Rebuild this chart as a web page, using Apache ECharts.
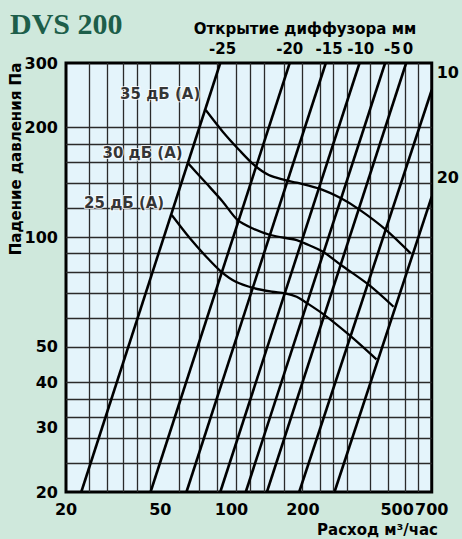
<!DOCTYPE html>
<html><head><meta charset="utf-8">
<script src="https://cdn.jsdelivr.net/npm/echarts@6/dist/echarts.min.js"></script>
<style>html,body{margin:0;padding:0;background:#cfe8dc}#c{width:462px;height:539px}</style>
</head><body><div id="c"></div>
<script>
// Axis ticks and grid (raw values, log-log chart)
const xTickValues = [20, 50, 100, 200, 500, 700];
const yTickValues = [20, 30, 40, 50, 100, 200, 300];
const xGridValues = [25, 30, 35, 40, 45.5, 60, 73, 87, 105, 120, 137, 167, 198, 237, 268, 309, 384, 457, 539, 613];
const yGridValues = [24, 28, 32, 36, 40, 50, 60, 70, 80, 90, 100, 120, 140, 160, 180, 200];

// Diffuser opening lines (mm)
const openingTopLabels = ['-25', '-20', '-15', '-10', '-5', '0'];
const openingTopLabelQ = [91.7, 176, 258, 351, 477, 556];
const openingSideLabels = ['10', '20'];
const openingSideLabelP = [282, 146];
const openingStartQ = [23.2, 45.5, 64.5, 89.6, 114.8, 141, 193, 272];
const openingStartP = [20, 20, 20, 20, 20, 20, 20, 20];
const openingEndQ = [89.6, 176, 250, 347, 445, 546, 700, 700];
const openingEndP = [300, 300, 300, 300, 300, 300, 253, 129];

// Noise level curves
const curveNames = ['35 дБ (A)', '30 дБ (A)', '25 дБ (A)'];
const curve35Q = [77.8, 91.8, 107.7, 124.4, 143.6, 168.3, 188.3, 239.2, 289.8, 345.4, 446, 570.6];
const curve35P = [222.9, 194.4, 173.2, 157.6, 147.9, 143.3, 140.9, 135.1, 127.7, 119.1, 105.0, 90.2];
const curve30Q = [65.6, 78.2, 91.8, 106.0, 122.3, 145.8, 188.3, 203.8, 243.2, 289.8, 380.1, 483];
const curve30P = [159.2, 140.4, 125.0, 111.4, 105.7, 101.3, 98.1, 96.1, 91.1, 83.8, 73.9, 64.4];
const curve25Q = [55.9, 66.7, 78.2, 90.3, 104.2, 124.4, 148.2, 168.3, 188.3, 203.8, 247, 313.8, 409.2];
const curve25P = [114.9, 99.2, 88.3, 80.4, 75.4, 72.4, 70.8, 70.1, 68.6, 66.5, 61.1, 53.9, 46.2];

const L = Math.log10;
const FONT = 'DejaVu Sans';
const near = (arr, v) => arr.findIndex(a => Math.abs(L(a) - v) < 1e-6);

const series = [];
openingStartQ.forEach((q, i) => {
  series.push({
    type: 'line', xAxisIndex: 0, yAxisIndex: 0, silent: true, symbol: 'none',
    lineStyle: { color: '#000', width: 2.6 },
    data: [[L(q), L(openingStartP[i])], [L(openingEndQ[i]), L(openingEndP[i])]]
  });
});
const curves = [[curve35Q, curve35P, [-5, -16]], [curve30Q, curve30P, [-5, -10]], [curve25Q, curve25P, [-7, -12]]];
curves.forEach(([qs, ps, pos], k) => {
  series.push({
    type: 'line', xAxisIndex: 0, yAxisIndex: 0, silent: true, symbol: 'none', smooth: 0.3,
    lineStyle: { color: '#000', width: 2.3 },
    data: qs.map((q, i) => [L(q), L(ps[i])])
  });
  series.push({
    type: 'scatter', xAxisIndex: 0, yAxisIndex: 0, silent: true, z: 5,
    symbol: 'circle', symbolSize: 1, itemStyle: { color: 'rgba(0,0,0,0)' },
    labelLayout: { hideOverlap: false },
    label: {
      show: true, position: pos, align: 'right', verticalAlign: 'middle', formatter: curveNames[k],
      fontFamily: FONT, fontWeight: 'bold', fontSize: 15, color: '#000',
      textBorderColor: '#ffffff', textBorderWidth: 2
    },
    data: [[L(qs[0]), L(ps[0])]]
  });
});

const lbl = { fontFamily: FONT, fontWeight: 'bold', fontSize: 16, color: '#000' };
const gridLine = { show: true, lineStyle: { color: '#2a2a2a', width: 1.3 } };

const option = {
  animation: false,
  backgroundColor: '#cfe8dc',
  grid: { left: 66, right: 25, top: 63, bottom: 47, show: true, backgroundColor: '#e4f4fb', borderColor: '#000', borderWidth: 3 },
  xAxis: [{
    type: 'value', position: 'bottom', min: L(20), max: L(700),
    axisLine: { show: false },
    axisTick: { show: false, customValues: xGridValues.map(L) },
    splitLine: gridLine,
    axisLabel: { ...lbl, margin: 9, customValues: xTickValues.map(L), formatter: v => String(xTickValues[near(xTickValues, v)]) }
  }, {
    type: 'value', position: 'top', min: L(20), max: L(700),
    axisLine: { show: false }, splitLine: { show: false },
    axisTick: { show: false, customValues: openingTopLabelQ.map(L) },
    axisLabel: { ...lbl, fontSize: 15, margin: 7, customValues: openingTopLabelQ.map(L), formatter: v => openingTopLabels[near(openingTopLabelQ, v)] }
  }],
  yAxis: [{
    type: 'value', position: 'left', min: L(20), max: L(300),
    axisLine: { show: false },
    axisTick: { show: false, customValues: yGridValues.map(L) },
    splitLine: gridLine,
    axisLabel: { ...lbl, margin: 8, customValues: yTickValues.map(L), formatter: v => String(yTickValues[near(yTickValues, v)]) }
  }, {
    type: 'value', position: 'right', min: L(20), max: L(300),
    axisLine: { show: false }, splitLine: { show: false },
    axisTick: { show: false, customValues: openingSideLabelP.map(L) },
    axisLabel: { ...lbl, margin: 5, customValues: openingSideLabelP.map(L), formatter: v => openingSideLabels[near(openingSideLabelP, v)] }
  }],
  graphic: [
    { type: 'text', left: 10, top: 8, style: { text: 'DVS 200', font: 'bold 30px "Liberation Serif"', fill: '#1d5e4a' } },
    { type: 'text', x: 305, y: 29, style: { text: 'Открытие диффузора мм', font: 'bold 15px "DejaVu Sans"', fill: '#000', textAlign: 'center', textVerticalAlign: 'middle' } },
    { type: 'text', x: 438, y: 530, style: { text: 'Расход м³/час', font: 'bold 15px "DejaVu Sans"', fill: '#000', textAlign: 'right', textVerticalAlign: 'middle' } },
    { type: 'text', x: 16, y: 159, rotation: Math.PI / 2, style: { text: 'Падение давления Па', font: 'bold 15px "DejaVu Sans"', fill: '#000', textAlign: 'center', textVerticalAlign: 'middle' } }
  ],
  series
};
const chart = echarts.init(document.getElementById('c'), null, { renderer: 'svg' });
chart.setOption(option);
</script></body></html>
